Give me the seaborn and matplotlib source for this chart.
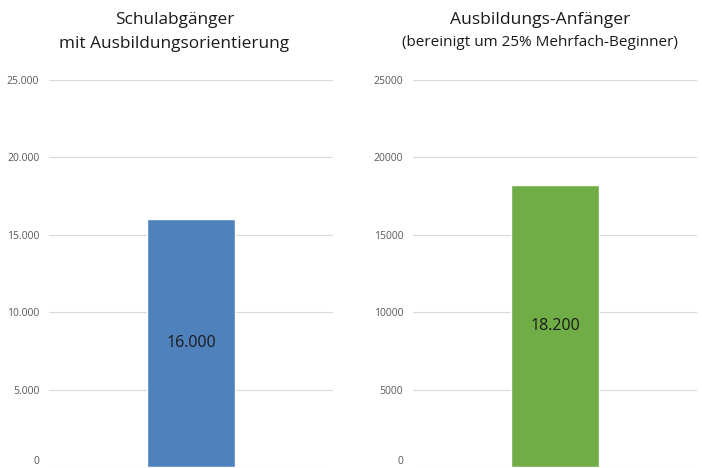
import matplotlib
matplotlib.use("Agg")
import matplotlib.pyplot as plt
import seaborn as sns
import pandas as pd

# Daten
kategorie_links = ["Schulabgänger"]
wert_links = [16000]
kategorie_rechts = ["Ausbildungs-Anfänger"]
wert_rechts = [18200]
y_ticks = [0, 5000, 10000, 15000, 20000, 25000]
y_labels_links = ["0", "5.000", "10.000", "15.000", "20.000", "25.000"]
y_labels_rechts = ["0", "5000", "10000", "15000", "20000", "25000"]

sns.set_theme(style="white")
plt.rcParams["font.family"] = ["Open Sans", "DejaVu Sans"]

fig = plt.figure(figsize=(7.02, 4.68), dpi=100)
W, H = 702, 468
ax1 = fig.add_axes([49 / W, 1 / H, (333 - 49) / W, (467 - 80) / H])
ax2 = fig.add_axes([413 / W, 1 / H, (697 - 413) / W, (467 - 80) / H])

df_l = pd.DataFrame({"kat": kategorie_links, "wert": wert_links})
df_r = pd.DataFrame({"kat": kategorie_rechts, "wert": wert_rechts})

sns.barplot(data=df_l, x="kat", y="wert", ax=ax1, color="#4F81BD", width=0.31,
            saturation=1)
sns.barplot(data=df_r, x="kat", y="wert", ax=ax2, color="#70AD47", width=0.31,
            saturation=1)

for ax, labels, df in [(ax1, y_labels_links, df_l), (ax2, y_labels_rechts, df_r)]:
    ax.set_ylim(0, 25000)
    ax.set_xlim(-0.5, 0.5)
    ax.set_yticks(y_ticks)
    ax.set_yticklabels(labels, fontsize=7.5, color="#595959")
    ax.tick_params(axis="y", length=0, pad=7)
    # "0" am unteren Rand ganz sichtbar halten
    ax.get_yticklabels()[0].set_verticalalignment("bottom")
    ax.set_xticks([])
    ax.set_xlabel("")
    ax.set_ylabel("")
    for s in ax.spines.values():
        s.set_visible(False)
    ax.yaxis.grid(True, color="#d9d9d9", linewidth=0.8)
    ax.set_axisbelow(True)

ax1.text(0, wert_links[0] / 2, "16.000", ha="center", va="center",
         fontsize=11.5, color="#1a1a1a")
ax2.text(0, wert_rechts[0] / 2, "18.200", ha="center", va="center",
         fontsize=11.5, color="#1a1a1a")

fig.text(175 / W, 1 - 20 / H, "Schulabgänger", ha="center", va="center",
         fontsize=12.4, color="#1a1a1a")
fig.text(174 / W, 1 - 44 / H, "mit Ausbildungsorientierung", ha="center",
         va="center", fontsize=12.4, color="#1a1a1a")
fig.text(540 / W, 1 - 20 / H, "Ausbildungs-Anfänger", ha="center", va="center",
         fontsize=12.6, color="#1a1a1a")
fig.text(540 / W, 1 - 43 / H, "(bereinigt um 25% Mehrfach-Beginner)", ha="center",
         va="center", fontsize=11, color="#1a1a1a")

fig.savefig("out.png", dpi=100)
